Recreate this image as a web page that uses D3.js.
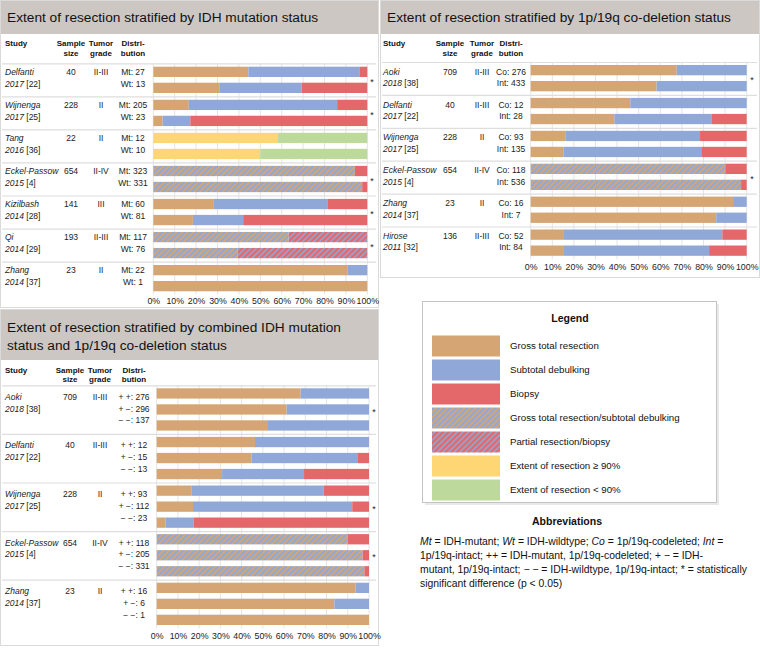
<!DOCTYPE html>
<html>
<head>
<meta charset="utf-8">
<script src="https://cdn.jsdelivr.net/npm/d3@7"></script>
<style>
body { margin: 0; background: #fff; }
svg { font-family: "Liberation Sans", Arial, Helvetica, sans-serif; }
</style>
</head>
<body>
<svg width="760" height="648"></svg>
<script>
// stack order of the segments inside one bar
const segKeys = ["gtr", "gst", "hi", "std", "prb", "lo", "bx"];

const legendKeys = ["gtr", "std", "bx", "gst", "prb", "hi", "lo"];
const legendLabels = ["Gross total resection", "Subtotal debulking", "Biopsy",
  "Gross total resection/subtotal debulking", "Partial resection/biopsy",
  "Extent of resection \u2265 90%", "Extent of resection < 90%"];

const tickValues = [0, 10, 20, 30, 40, 50, 60, 70, 80, 90, 100];
const colHeads = [["Study"], ["Sample", "size"], ["Tumor", "grade"], ["Distri-", "bution"]];

// panel 1: IDH
const idhStudies = [
  {name: "Delfanti", year: "2017", ref: "[22]", n: 40, grade: "II-III", star: true},
  {name: "Wijnenga", year: "2017", ref: "[25]", n: 228, grade: "II", star: true},
  {name: "Tang", year: "2016", ref: "[36]", n: 22, grade: "II", star: false},
  {name: "Eckel-Passow", year: "2015", ref: "[4]", n: 654, grade: "II-IV", star: true},
  {name: "Kizilbash", year: "2014", ref: "[28]", n: 141, grade: "III", star: true},
  {name: "Qi", year: "2014", ref: "[29]", n: 193, grade: "II-III", star: true},
  {name: "Zhang", year: "2014", ref: "[37]", n: 23, grade: "II", star: false}
];
const idhRows = [
  {s: 0, label: "Mt: 27", gtr: 44.4, std: 51.9, bx: 3.7},
  {s: 0, label: "Wt: 13", gtr: 30.8, std: 38.5, bx: 30.7},
  {s: 1, label: "Mt: 205", gtr: 16.6, std: 69.3, bx: 14.1},
  {s: 1, label: "Wt: 23", gtr: 4.3, std: 13.0, bx: 82.7},
  {s: 2, label: "Mt: 12", hi: 58.3, lo: 41.7},
  {s: 2, label: "Wt: 10", hi: 50, lo: 50},
  {s: 3, label: "Mt: 323", gst: 94.2, bx: 5.8},
  {s: 3, label: "Wt: 331", gst: 97.6, bx: 2.4},
  {s: 4, label: "Mt: 60", gtr: 28.3, std: 53.3, bx: 18.4},
  {s: 4, label: "Wt: 81", gtr: 18.5, std: 23.5, bx: 58.0},
  {s: 5, label: "Mt: 117", gst: 63.2, prb: 36.8},
  {s: 5, label: "Wt: 76", gst: 39.5, prb: 60.5},
  {s: 6, label: "Mt: 22", gtr: 90.9, std: 9.1},
  {s: 6, label: "Wt: 1", gtr: 100}
];

// panel 2: 1p/19q
const codelStudies = [
  {name: "Aoki", year: "2018", ref: "[38]", n: 709, grade: "II-III", star: true},
  {name: "Delfanti", year: "2017", ref: "[22]", n: 40, grade: "II-III", star: false},
  {name: "Wijnenga", year: "2017", ref: "[25]", n: 228, grade: "II", star: false},
  {name: "Eckel-Passow", year: "2015", ref: "[4]", n: 654, grade: "II-IV", star: true},
  {name: "Zhang", year: "2014", ref: "[37]", n: 23, grade: "II", star: false},
  {name: "Hirose", year: "2011", ref: "[32]", n: 136, grade: "II-III", star: false}
];
const codelRows = [
  {s: 0, label: "Co: 276", gtr: 67.6, std: 32.4},
  {s: 0, label: "Int: 433", gtr: 58.3, std: 41.7},
  {s: 1, label: "Co: 12", gtr: 46.1, std: 53.9},
  {s: 1, label: "Int: 28", gtr: 38.7, std: 45.2, bx: 16.1},
  {s: 2, label: "Co: 93", gtr: 16.0, std: 62.4, bx: 21.6},
  {s: 2, label: "Int: 135", gtr: 15.1, std: 64.2, bx: 20.7},
  {s: 3, label: "Co: 118", gst: 90.1, bx: 9.9},
  {s: 3, label: "Int: 536", gst: 97.4, bx: 2.6},
  {s: 4, label: "Co: 16", gtr: 93.7, std: 6.3},
  {s: 4, label: "Int: 7", gtr: 85.9, std: 14.1},
  {s: 5, label: "Co: 52", gtr: 15.4, std: 73.3, bx: 11.3},
  {s: 5, label: "Int: 84", gtr: 15.4, std: 67.2, bx: 17.4}
];

// panel 3: combined
const comboStudies = [
  {name: "Aoki", year: "2018", ref: "[38]", n: 709, grade: "II-III", star: true},
  {name: "Delfanti", year: "2017", ref: "[22]", n: 40, grade: "II-III", star: false},
  {name: "Wijnenga", year: "2017", ref: "[25]", n: 228, grade: "II", star: true},
  {name: "Eckel-Passow", year: "2015", ref: "[4]", n: 654, grade: "II-IV", star: true},
  {name: "Zhang", year: "2014", ref: "[37]", n: 23, grade: "II", star: false}
];
const comboRows = [
  {s: 0, label: "+ +: 276", gtr: 67.8, std: 32.2},
  {s: 0, label: "+ \u2212: 296", gtr: 61.2, std: 38.8},
  {s: 0, label: "\u2212 \u2212: 137", gtr: 52.0, std: 48.0},
  {s: 1, label: "+ +: 12", gtr: 46.3, std: 53.7},
  {s: 1, label: "+ \u2212: 15", gtr: 44.6, std: 49.9, bx: 5.5},
  {s: 1, label: "\u2212 \u2212: 13", gtr: 30.8, std: 38.6, bx: 30.6},
  {s: 2, label: "+ +: 93", gtr: 16.3, std: 62.4, bx: 21.3},
  {s: 2, label: "+ \u2212: 112", gtr: 17.1, std: 75.0, bx: 7.9},
  {s: 2, label: "\u2212 \u2212: 23", gtr: 4.1, std: 13.2, bx: 82.7},
  {s: 3, label: "+ +: 118", gst: 90.0, bx: 10.0},
  {s: 3, label: "+ \u2212: 205", gst: 97.0, bx: 3.0},
  {s: 3, label: "\u2212 \u2212: 331", gst: 97.8, bx: 2.2},
  {s: 4, label: "+ +: 16", gtr: 93.7, std: 6.3},
  {s: 4, label: "+ \u2212: 6", gtr: 83.7, std: 16.3},
  {s: 4, label: "\u2212 \u2212: 1", gtr: 100}
];

const COLORS = {
  gtr: "#D5A673", std: "#8FA8D8", bx: "#E4686A", hi: "#FED674", lo: "#BED99C",
  gst: "url(#hatch-gst)", prb: "url(#hatch-prb)"
};
const HEAD_GREY = "#CCC7C3";

var svg = d3.select("svg");
var defs = svg.append("defs");

var pg = defs.append("pattern").attr("id", "hatch-gst")
    .attr("patternUnits", "userSpaceOnUse").attr("width", 4).attr("height", 4)
    .attr("patternTransform", "rotate(45)");
pg.append("rect").attr("width", 4).attr("height", 4).attr("fill", COLORS.std);
pg.append("rect").attr("width", 1.9).attr("height", 4).attr("fill", COLORS.gtr);

var pp = defs.append("pattern").attr("id", "hatch-prb")
    .attr("patternUnits", "userSpaceOnUse").attr("width", 4).attr("height", 4)
    .attr("patternTransform", "rotate(45)");
pp.append("rect").attr("width", 4).attr("height", 4).attr("fill", COLORS.bx);
pp.append("rect").attr("width", 1.6).attr("height", 4).attr("fill", COLORS.std);

// baseline for a text whose visual centre should sit at cy
function bl(cy, fs) { return cy + fs * 0.36; }

function drawPanel(p, studies, rows) {
    var g = svg.append("g");
    g.append("rect")
        .attr("x", p.x0 + 0.5).attr("y", p.y0 + 0.5)
        .attr("width", p.x1 - p.x0 - 1).attr("height", p.y1 - p.y0 - 1)
        .attr("fill", "#fff").attr("stroke", "#dadada");
    g.append("rect")
        .attr("x", p.x0 + 1).attr("y", p.y0 + 1)
        .attr("width", p.x1 - p.x0 - 2).attr("height", p.headH)
        .attr("fill", HEAD_GREY);
    p.title.forEach(function(t, i) {
        g.append("text").attr("x", p.x0 + 7).attr("y", bl(p.titleY[i], 13.7))
            .attr("font-size", 13.7).attr("fill", "#111").text(t);
    });

    // column headers
    var colX = [p.studyX, p.sizeX, p.gradeX, p.distX];
    colHeads.forEach(function(lines, c) {
        lines.forEach(function(t, i) {
            g.append("text")
                .attr("x", colX[c])
                .attr("y", bl(p.headY + i * 9.4, 8))
                .attr("text-anchor", c === 0 ? "start" : "middle")
                .attr("font-size", 8).attr("font-weight", "bold").attr("fill", "#111")
                .text(t);
        });
    });

    var x = d3.scaleLinear().domain([0, 100]).range([p.bx0, p.bx1]);
    var gy = d3.scaleBand().domain(d3.range(studies.length))
        .range([p.gTop, p.gTop + studies.length * p.groupH]);
    var gBottom = p.gTop + studies.length * p.groupH;

    // row index inside its study
    var counter = {};
    rows.forEach(function(r) {
        counter[r.s] = (counter[r.s] || 0);
        r.ri = counter[r.s]++;
    });
    function rowY(r) { return gy(r.s) + p.barOffset + r.ri * p.rowStep; }

    // grid
    g.append("g").selectAll("line").data(tickValues).enter().append("line")
        .attr("x1", function(d) { return x(d); }).attr("x2", function(d) { return x(d); })
        .attr("y1", p.gTop).attr("y2", gBottom)
        .attr("stroke", "#e4e4e4").attr("stroke-width", 1);

    // separators
    g.append("g").selectAll("line").data(d3.range(studies.length)).enter().append("line")
        .attr("x1", p.x0 + 2).attr("x2", p.x1 - 3)
        .attr("y1", function(d) { return gy(d) + 0.5; })
        .attr("y2", function(d) { return gy(d) + 0.5; })
        .attr("stroke", "#dedede").attr("stroke-width", 1.2);

    // stacked bars
    var series = d3.stack().keys(segKeys)
        .value(function(d, k) { return d[k] || 0; })(rows);
    g.append("g").selectAll("g").data(series).enter().append("g")
        .attr("fill", function(d) { return COLORS[d.key]; })
        .selectAll("rect")
        .data(function(d) { return d.filter(function(v) { return v[1] - v[0] > 0; }); })
        .enter().append("rect")
        .attr("x", function(d) { return x(d[0]); })
        .attr("width", function(d) { return x(d[1]) - x(d[0]); })
        .attr("y", function(d) { return rowY(d.data); })
        .attr("height", p.barH);

    // study columns
    var fs = 8.5;
    studies.forEach(function(s, i) {
        var top = gy(i);
        g.append("text").attr("x", p.studyX).attr("y", bl(top + p.textOff, fs))
            .attr("font-size", fs).attr("font-style", "italic").attr("fill", "#222").text(s.name);
        var t2 = g.append("text").attr("x", p.studyX).attr("y", bl(top + p.textOff + p.textStep, fs))
            .attr("font-size", fs).attr("fill", "#222");
        t2.append("tspan").attr("font-style", "italic").text(s.year);
        t2.append("tspan").text(" " + s.ref);
        g.append("text").attr("x", p.sizeX).attr("y", bl(top + p.textOff, fs))
            .attr("text-anchor", "middle").attr("font-size", fs).attr("fill", "#222").text(s.n);
        g.append("text").attr("x", p.gradeX).attr("y", bl(top + p.textOff, fs))
            .attr("text-anchor", "middle").attr("font-size", fs).attr("fill", "#222").text(s.grade);
        if (s.star) {
            g.append("text").attr("x", p.starX).attr("y", top + p.groupH / 2 + 5)
                .attr("text-anchor", "middle").attr("font-size", 9).attr("fill", "#222").text("*");
        }
    });
    rows.forEach(function(r) {
        g.append("text").attr("x", p.distX)
            .attr("y", bl(gy(r.s) + p.textOff + r.ri * p.textStep, fs))
            .attr("text-anchor", "middle").attr("font-size", fs).attr("fill", "#222")
            .text(r.label);
    });

    // axis
    var ax = g.append("g")
        .attr("transform", "translate(0," + (p.axisY - 8.8 * 0.36) + ")")
        .call(d3.axisBottom(x).tickValues(tickValues)
            .tickFormat(function(d) { return d + "%"; })
            .tickSize(0).tickPadding(0));
    ax.select(".domain").remove();
    ax.selectAll("text").attr("font-size", 8.8).attr("fill", "#222")
        .attr("font-family", "Liberation Sans, Arial, sans-serif");
}

drawPanel({
    x0: 0, x1: 379, y0: 0, y1: 308, headH: 33,
    title: ["Extent of resection stratified by IDH mutation status"], titleY: [17],
    studyX: 5, sizeX: 71, gradeX: 101, distX: 133, headY: 43.3,
    bx0: 153.3, bx1: 367.3, starX: 372,
    gTop: 63.3, groupH: 33.05, barOffset: 3.4, rowStep: 16, barH: 10.3,
    textOff: 8.8, textStep: 11.6, axisY: 301
}, idhStudies, idhRows);

drawPanel({
    x0: 380, x1: 760, y0: 0, y1: 278, headH: 33,
    title: ["Extent of resection stratified by 1p/19q co-deletion status"], titleY: [17],
    studyX: 383, sizeX: 450, gradeX: 482, distX: 511, headY: 43.3,
    bx0: 530.7, bx1: 746.7, starX: 752,
    gTop: 62, groupH: 32.9, barOffset: 3, rowStep: 16, barH: 10.3,
    textOff: 9.6, textStep: 11.3, axisY: 266.7
}, codelStudies, codelRows);

drawPanel({
    x0: 0, x1: 379, y0: 309, y1: 646, headH: 50,
    title: ["Extent of resection stratified by combined IDH mutation",
            "status and 1p/19q co-deletion status"], titleY: [327, 345],
    studyX: 5, sizeX: 70, gradeX: 100, distX: 134, headY: 370,
    bx0: 156.7, bx1: 369, starX: 374,
    gTop: 385.3, groupH: 48.6, barOffset: 3, rowStep: 16, barH: 10.3,
    textOff: 11.5, textStep: 11.8, axisY: 636
}, comboStudies, comboRows);

// legend
var lg = svg.append("g");
lg.append("rect").attr("x", 425).attr("y", 304).attr("width", 294).attr("height", 201)
    .attr("fill", "#e9e9e9");
lg.append("rect").attr("x", 422.5).attr("y", 301.5).attr("width", 294).attr("height", 201)
    .attr("fill", "#fff").attr("stroke", "#c4c4c4");
lg.append("text").attr("x", 570).attr("y", bl(318, 10.5)).attr("text-anchor", "middle")
    .attr("font-size", 10.5).attr("font-weight", "bold").attr("fill", "#111").text("Legend");
var ly = d3.scaleBand().domain(legendKeys).range([334, 334 + 24 * legendKeys.length]);
legendKeys.forEach(function(k, i) {
    lg.append("rect").attr("x", 432).attr("y", ly(k) + 1.5).attr("width", 68).attr("height", 21)
        .attr("fill", COLORS[k]);
    lg.append("text").attr("x", 510).attr("y", bl(ly(k) + 12, 9.7))
        .attr("font-size", 9.7).attr("fill", "#111").text(legendLabels[i]);
});

// abbreviations
var ab = svg.append("g").attr("font-size", 10.4).attr("fill", "#111");
ab.append("text").attr("x", 567).attr("y", bl(521, 10.5)).attr("text-anchor", "middle")
    .attr("font-size", 10.5).attr("font-weight", "bold").text("Abbreviations");
var abLines = [
    [["Mt", 1], [" = IDH-mutant; ", 0], ["Wt", 1], [" = IDH-wildtype; ", 0], ["Co", 1],
     [" = 1p/19q-codeleted; ", 0], ["Int", 1], [" =", 0]],
    [["1p/19q-intact; ", 0], ["++", 1], [" = IDH-mutant, 1p/19q-codeleted; ", 0],
     ["+ \u2212", 1], [" = IDH-", 0]],
    [["mutant, 1p/19q-intact; ", 0], ["\u2212 \u2212", 1],
     [" = IDH-wildtype, 1p/19q-intact; * = statistically", 0]],
    [["significant difference (p < 0.05)", 0]]
];
abLines.forEach(function(parts, i) {
    var t = ab.append("text").attr("x", 420).attr("y", bl(541 + i * 14, 10.4));
    parts.forEach(function(pt) {
        t.append("tspan").attr("font-style", pt[1] ? "italic" : null).text(pt[0]);
    });
});
</script>
</body>
</html>
